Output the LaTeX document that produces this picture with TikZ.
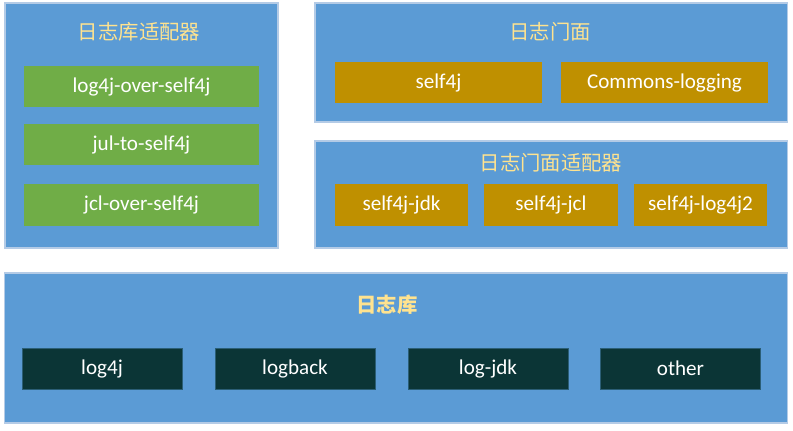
\documentclass[tikz,border=0pt]{standalone}
\usepackage{fontspec}
\setmainfont{Carlito}
\newfontfamily\cjk{Noto Sans CJK SC}
\usepackage{xcolor}

\definecolor{panelblue}{HTML}{5B9BD5}
\definecolor{panelline}{HTML}{B4CBE6}
\definecolor{adaptgreen}{HTML}{70AD47}
\definecolor{facadegold}{HTML}{BF9000}
\definecolor{libdark}{HTML}{0B3536}
\definecolor{titleyellow}{HTML}{FFE38F}

\tikzset{
  panel/.style={draw=panelline, line width=0.8pt, fill=panelblue, inner sep=0pt},
  item/.style={inner sep=0pt, minimum height=1.025cm, text=white,
    font=\fontsize{15}{18}\selectfont},
  greenitem/.style={item, fill=adaptgreen, minimum width=5.875cm},
  golditem/.style={item, fill=facadegold},
  darkitem/.style={item, fill=libdark, draw=libdark!60!panelblue, minimum width=4cm},
  paneltitle/.style={text=titleyellow, font=\cjk\fontsize{14.5}{17}\selectfont}
}

\begin{document}
\begin{tikzpicture}[x=0.025cm,y=-0.025cm]
\useasboundingbox (0,0) rectangle (793,431);

% panels
\node[panel, minimum width=6.825cm, minimum height=6.125cm] (adaptpanel) at (141.5,125.5) {};
\node[panel, minimum width=11.8cm, minimum height=2.975cm] (facadepanel) at (551,62.5) {};
\node[panel, minimum width=11.8cm, minimum height=2.675cm] (bridgepanel) at (551,194.5) {};
\node[panel, minimum width=19.55cm, minimum height=3.75cm] (libpanel) at (396,348) {};

% titles
\node[paneltitle] (adapttitle) at (139,32) {日志库适配器};
\node[paneltitle] (facadetitle) at (550,32) {日志门面};
\node[paneltitle] (bridgetitle) at (551,163) {日志门面适配器};
\node[paneltitle, font=\cjk\bfseries\fontsize{14.5}{17}\selectfont] (libtitle) at (387,305) {日志库};

% adapters
\node[greenitem] (logfourover) at (141.5,86.5) {log4j-over-self4j};
\node[greenitem] (jul) at (141.5,144.5) {jul-to-self4j};
\node[greenitem] (jcl) at (141.5,205) {jcl-over-self4j};

% facades
\node[golditem, minimum width=5.175cm] (selffour) at (438.5,82.5) {self4j};
\node[golditem, minimum width=5.175cm] (commons) at (664.5,82.5) {Commons-logging};

% facade adapters
\node[golditem, minimum width=3.325cm] (selfjdk) at (401.5,205) {self4j-jdk};
\node[golditem, minimum width=3.325cm] (selfjcl) at (551,205) {self4j-jcl};
\node[golditem, minimum width=3.325cm] (selflogtwo) at (700.5,205) {self4j-log4j2};

% libraries
\node[darkitem] (logfour) at (102,368.5) {log4j};
\node[darkitem] (logback) at (295,368.5) {logback};
\node[darkitem] (logjdk) at (488,368.5) {log-jdk};
\node[darkitem] (other) at (680.5,368.5) {other};

\end{tikzpicture}
\end{document}
